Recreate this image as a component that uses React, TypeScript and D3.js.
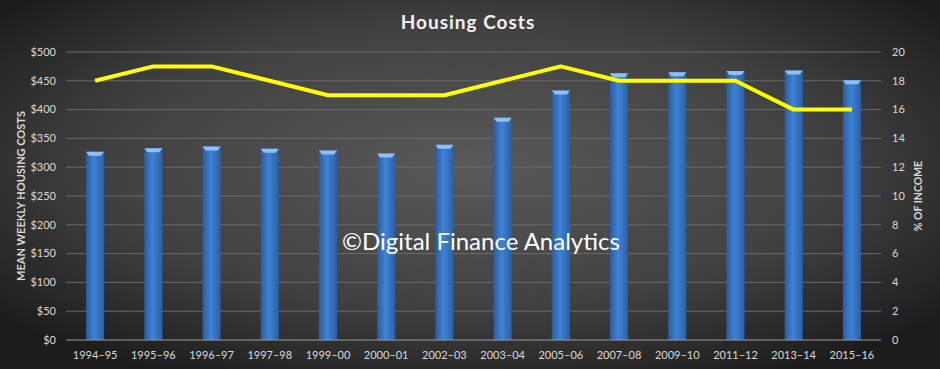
import { useRef, useEffect } from "react";
import * as d3 from "d3";

const years = [
  "1994–95", "1995–96", "1996–97", "1997–98", "1999–00", "2000–01", "2002–03",
  "2003–04", "2005–06", "2007–08", "2009–10", "2011–12", "2013–14", "2015–16",
];
const weeklyCosts = [327, 333, 336, 332, 329, 324, 339, 386, 433, 463, 465, 467, 468, 451];
const pctIncome = [18, 19, 19, 18, 17, 17, 17, 18, 19, 18, 18, 18, 16, 16];
const leftTicks = [0, 50, 100, 150, 200, 250, 300, 350, 400, 450, 500];
const rightTicks = [0, 2, 4, 6, 8, 10, 12, 14, 16, 18, 20];

const width = 940;
const height = 369;
const font = "Lato, 'Open Sans', sans-serif";

export default function App() {
  const svgRef = useRef<SVGSVGElement>(null);

  useEffect(() => {
    if (!svgRef.current) return;
    const svg = d3.select(svgRef.current);
    svg.selectAll("*").remove();

    const margin = { top: 52, right: 59, bottom: 29, left: 66 };

    const defs = svg.append("defs");
    const bg = defs.append("radialGradient").attr("id", "bg")
      .attr("cx", "50%").attr("cy", "45%").attr("r", "65%");
    bg.append("stop").attr("offset", "0%").attr("stop-color", "#595959");
    bg.append("stop").attr("offset", "60%").attr("stop-color", "#404040");
    bg.append("stop").attr("offset", "100%").attr("stop-color", "#1c1c1c");

    const barGrad = defs.append("linearGradient").attr("id", "bar")
      .attr("x1", "0%").attr("x2", "100%");
    barGrad.append("stop").attr("offset", "0%").attr("stop-color", "#2a5c9e");
    barGrad.append("stop").attr("offset", "45%").attr("stop-color", "#3f82d6");
    barGrad.append("stop").attr("offset", "100%").attr("stop-color", "#2b5fa4");

    svg.append("rect").attr("width", width).attr("height", height).attr("fill", "url(#bg)");

    const x = d3.scaleBand()
      .domain(years)
      .range([margin.left, width - margin.right])
      .paddingInner(0.69)
      .paddingOuter(0.345);

    const y = d3.scaleLinear().domain([0, 500]).range([height - margin.bottom, margin.top]);
    const y2 = d3.scaleLinear().domain([0, 20]).range([height - margin.bottom, margin.top]);

    // gridlines
    svg.append("g")
      .selectAll("line")
      .data(leftTicks.slice(1))
      .join("line")
      .attr("x1", margin.left)
      .attr("x2", width - margin.right)
      .attr("y1", (d) => y(d))
      .attr("y2", (d) => y(d))
      .attr("stroke", "#6a6a6a")
      .attr("stroke-width", 1);

    // bars
    const bars = svg.append("g")
      .selectAll("g")
      .data(years.map((yr, i) => ({ yr, v: weeklyCosts[i] })))
      .join("g");
    bars.append("rect")
      .attr("x", (d) => x(d.yr)!)
      .attr("y", (d) => y(d.v))
      .attr("width", x.bandwidth())
      .attr("height", (d) => y(0) - y(d.v))
      .attr("fill", "url(#bar)");
    bars.append("path")
      .attr("d", (d) => {
        const x0 = x(d.yr)!;
        const w = x.bandwidth();
        const t = y(d.v);
        return `M${x0},${t}L${x0 + w},${t}L${x0 + w - 3},${t + 4}L${x0 + 3},${t + 4}Z`;
      })
      .attr("fill", "#8ec0f5");

    // baseline
    svg.append("line")
      .attr("x1", margin.left)
      .attr("x2", width - margin.right)
      .attr("y1", y(0))
      .attr("y2", y(0))
      .attr("stroke", "#9a9a9a");

    // line series
    const line = d3.line<number>()
      .x((_, i) => x(years[i])! + x.bandwidth() / 2)
      .y((d) => y2(d));
    svg.append("path")
      .datum(pctIncome)
      .attr("d", line)
      .attr("fill", "none")
      .attr("stroke", "#ffff00")
      .attr("stroke-width", 4)
      .attr("stroke-linejoin", "round");

    // left axis labels
    svg.append("g")
      .selectAll("text")
      .data(leftTicks)
      .join("text")
      .attr("x", 56)
      .attr("y", (d) => y(d))
      .attr("dy", "0.35em")
      .attr("text-anchor", "end")
      .attr("fill", "#d9d9d9")
      .attr("font-family", font)
      .attr("font-size", 11)
      .text((d) => `$${d}`);

    // right axis labels
    svg.append("g")
      .selectAll("text")
      .data(rightTicks)
      .join("text")
      .attr("x", 892)
      .attr("y", (d) => y2(d))
      .attr("dy", "0.35em")
      .attr("text-anchor", "start")
      .attr("fill", "#d9d9d9")
      .attr("font-family", font)
      .attr("font-size", 11)
      .text((d) => d);

    // category labels
    svg.append("g")
      .selectAll("text")
      .data(years)
      .join("text")
      .attr("x", (d) => x(d)! + x.bandwidth() / 2)
      .attr("y", 355)
      .attr("dy", "0.35em")
      .attr("text-anchor", "middle")
      .attr("fill", "#d9d9d9")
      .attr("font-family", font)
      .attr("font-size", 11)
      .text((d) => d);

    // title
    svg.append("text")
      .attr("x", 468)
      .attr("y", 29)
      .attr("text-anchor", "middle")
      .attr("fill", "#f2f2f2")
      .attr("font-family", font)
      .attr("font-weight", "bold")
      .attr("font-size", 19)
      .attr("letter-spacing", 1)
      .text("Housing Costs");

    // axis titles
    svg.append("text")
      .attr("transform", `translate(21,${(margin.top + height - margin.bottom) / 2}) rotate(-90)`)
      .attr("text-anchor", "middle")
      .attr("dy", "0.35em")
      .attr("fill", "#d9d9d9")
      .attr("font-family", font)
      .attr("font-weight", "bold")
      .attr("font-size", 11)
      .text("MEAN WEEKLY HOUSING COSTS");
    svg.append("text")
      .attr("transform", `translate(918,${(margin.top + height - margin.bottom) / 2}) rotate(-90)`)
      .attr("text-anchor", "middle")
      .attr("dy", "0.35em")
      .attr("fill", "#d9d9d9")
      .attr("font-family", font)
      .attr("font-weight", "bold")
      .attr("font-size", 10.5)
      .text("% OF INCOME");

    // watermark
    svg.append("text")
      .attr("x", 481)
      .attr("y", 242)
      .attr("text-anchor", "middle")
      .attr("dy", "0.35em")
      .attr("fill", "#ffffff")
      .attr("font-family", font)
      .attr("font-size", 24)
      .text("©Digital Finance Analytics");
  }, []);

  return (
    <svg
      ref={svgRef}
      width={width}
      height={height}
      style={{ position: "absolute", left: 0, top: 0, display: "block" }}
    />
  );
}
